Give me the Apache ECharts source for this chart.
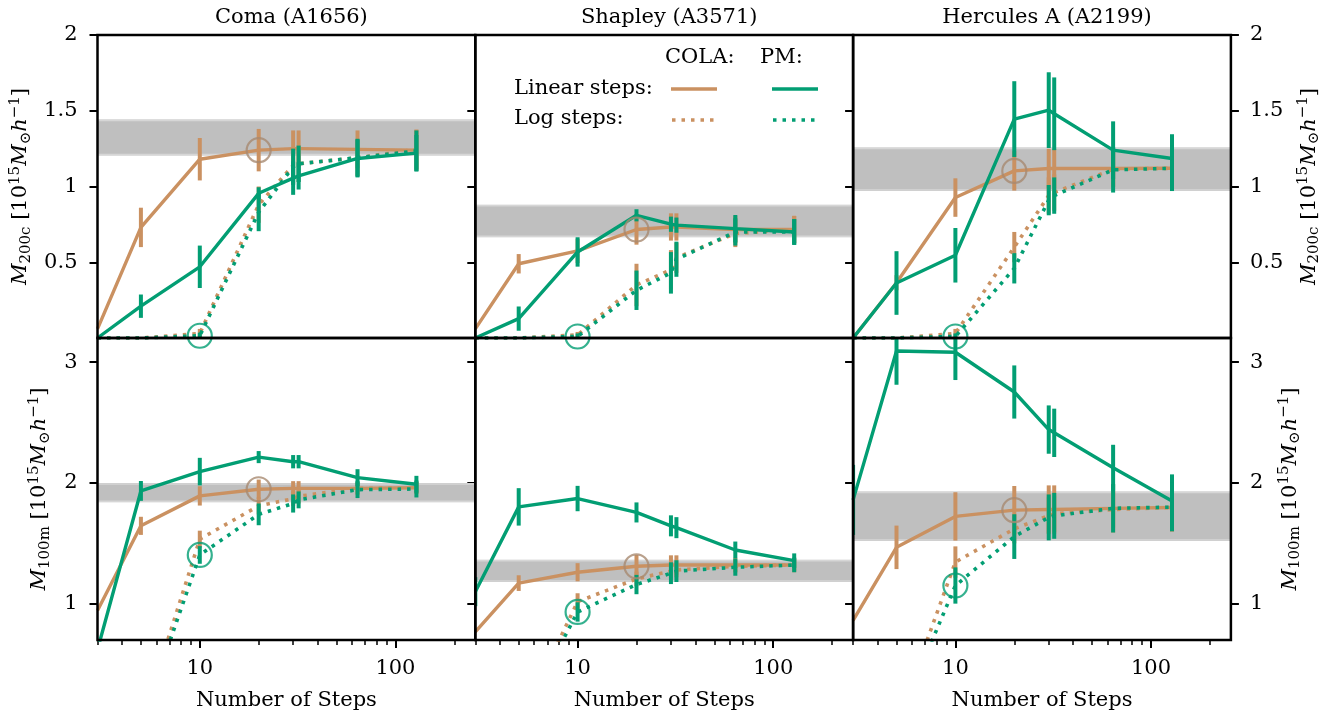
<!DOCTYPE html>
<html>
<head>
<meta charset="utf-8">
<script src="https://cdn.jsdelivr.net/npm/echarts@6/dist/echarts.min.js"></script>
<style>html,body{margin:0;padding:0;background:#fff}#chart{width:1343px;height:718px}</style>
</head>
<body>
<div id="chart"></div>
<script>
// ---------------- data ----------------
const steps = [3, 5, 10, 20, 30, 32, 64, 128];
const clusterNames = ['Coma (A1656)', 'Shapley (A3571)', 'Hercules A (A2199)'];
const xTicksMajor = [10, 100];
const xTicksMinor = [3, 4, 5, 6, 7, 8, 9, 20, 30, 40, 50, 60, 70, 80, 90, 200];
const yTicksM200c = [0.5, 1, 1.5, 2];
const yTicksM100m = [1, 2, 3];
const xLabel = 'Number of Steps';
const legendHeads = ['COLA:', 'PM:'];
const legendRows = ['Linear steps:', 'Log steps:'];

// Coma, M200c
const coma200_colaLin    = [0.06, 0.73, 1.18, 1.24, 1.25, 1.25, 1.245, 1.24];
const coma200_colaLinErr = [0, 0.13, 0.14, 0.14, 0.12, 0.12, 0.125, 0.135];
const coma200_colaLog    = [0, 0, 0.03, 0.88, 1.14, 1.15, 1.19, 1.245];
const coma200_colaLogErr = [0, 0, 0.03, 0.12, 0.12, 0.12, 0.12, 0.13];
const coma200_pmLin      = [0, 0.21, 0.47, 0.955, 1.055, 1.07, 1.185, 1.22];
const coma200_pmLinErr   = [0, 0.077, 0.14, 0.04, 0.11, 0.09, 0.125, 0.12];
const coma200_pmLog      = [0, 0, 0.015, 0.83, 1.13, 1.15, 1.19, 1.235];
const coma200_pmLogErr   = [0, 0, 0.02, 0.125, 0.12, 0.12, 0.125, 0.135];
const coma200_band       = [1.205, 1.442];

// Shapley, M200c
const shap200_colaLin    = [0.06, 0.49, 0.575, 0.716, 0.733, 0.733, 0.716, 0.716];
const shap200_colaLinErr = [0, 0.064, 0.08, 0.1, 0.09, 0.09, 0.09, 0.09];
const shap200_colaLog    = [0, 0, 0.02, 0.35, 0.45, 0.53, 0.69, 0.716];
const shap200_colaLogErr = [0, 0, 0.02, 0.14, 0.13, 0.1, 0.09, 0.09];
const shap200_pmLin      = [0, 0.128, 0.568, 0.81, 0.751, 0.745, 0.722, 0.70];
const shap200_pmLinErr   = [0, 0.08, 0.097, 0.04, 0.05, 0.05, 0.09, 0.085];
const shap200_pmLog      = [0, 0, 0.01, 0.315, 0.43, 0.52, 0.70, 0.70];
const shap200_pmLogErr   = [0, 0, 0.02, 0.13, 0.137, 0.116, 0.09, 0.085];
const shap200_band       = [0.665, 0.88];

// Hercules A, M200c
const herc200_colaLin    = [0, 0.365, 0.927, 1.103, 1.119, 1.119, 1.119, 1.12];
const herc200_colaLinErr = [0, 0.05, 0.127, 0.13, 0.13, 0.13, 0.12, 0.12];
const herc200_colaLog    = [0, 0, 0.03, 0.6, 0.94, 0.96, 1.115, 1.12];
const herc200_colaLogErr = [0, 0, 0.03, 0.1, 0.12, 0.12, 0.12, 0.12];
const herc200_pmLin      = [0, 0.363, 0.546, 1.445, 1.504, 1.48, 1.24, 1.185];
const herc200_pmLinErr   = [0, 0.21, 0.18, 0.25, 0.25, 0.24, 0.19, 0.16];
const herc200_pmLog      = [0, 0, 0.01, 0.46, 0.91, 0.94, 1.11, 1.12];
const herc200_pmLogErr   = [0, 0, 0.02, 0.1, 0.1, 0.12, 0.15, 0.15];
const herc200_band       = [0.97, 1.258];

// Coma, M100m
const coma100_colaLin    = [0.945, 1.645, 1.893, 1.948, 1.955, 1.955, 1.955, 1.96];
const coma100_colaLinErr = [0, 0.075, 0.08, 0.08, 0.06, 0.06, 0.05, 0.05];
const coma100_colaLog    = [0, 0, 1.535, 1.81, 1.87, 1.89, 1.955, 1.96];
const coma100_colaLogErr = [0, 0, 0.07, 0.07, 0.06, 0.06, 0.05, 0.05];
const coma100_pmLin      = [0.62, 1.934, 2.094, 2.214, 2.176, 2.176, 2.044, 1.989];
const coma100_pmLinErr   = [0, 0.082, 0.114, 0.05, 0.055, 0.055, 0.07, 0.07];
const coma100_pmLog      = [0, 0, 1.404, 1.74, 1.83, 1.86, 1.945, 1.95];
const coma100_pmLogErr   = [0, 0, 0.073, 0.09, 0.075, 0.07, 0.07, 0.07];
const coma100_band       = [1.84, 2.0];

// Shapley, M100m
const shap100_colaLin    = [0.767, 1.171, 1.261, 1.31, 1.321, 1.321, 1.321, 1.321];
const shap100_colaLinErr = [0, 0.065, 0.075, 0.095, 0.08, 0.08, 0.06, 0.06];
const shap100_colaLog    = [0, 0, 1.017, 1.206, 1.27, 1.28, 1.31, 1.321];
const shap100_colaLogErr = [0, 0, 0.07, 0.06, 0.06, 0.06, 0.05, 0.05];
const shap100_pmLin      = [1.1, 1.802, 1.871, 1.756, 1.645, 1.63, 1.445, 1.357];
const shap100_pmLinErr   = [0.12, 0.155, 0.105, 0.083, 0.087, 0.087, 0.07, 0.06];
const shap100_pmLog      = [0, 0, 0.932, 1.159, 1.253, 1.27, 1.302, 1.321];
const shap100_pmLogErr   = [0, 0, 0.08, 0.08, 0.09, 0.09, 0.07, 0.06];
const shap100_band       = [1.18, 1.365];

// Hercules A, M100m
const herc100_colaLin    = [0.862, 1.467, 1.723, 1.775, 1.78, 1.78, 1.79, 1.797];
const herc100_colaLinErr = [0, 0.18, 0.2, 0.2, 0.2, 0.2, 0.2, 0.2];
const herc100_colaLog    = [0, 0, 1.345, 1.62, 1.73, 1.745, 1.78, 1.797];
const herc100_colaLogErr = [0, 0, 0.13, 0.12, 0.15, 0.15, 0.15, 0.15];
const herc100_pmLin      = [1.86, 3.093, 3.082, 2.753, 2.442, 2.415, 2.126, 1.851];
const herc100_pmLinErr   = [0.29, 0.28, 0.23, 0.22, 0.2, 0.2, 0.19, 0.22];
const herc100_pmLog      = [0, 0, 1.151, 1.556, 1.715, 1.728, 1.79, 1.8];
const herc100_pmLogErr   = [0, 0, 0.15, 0.185, 0.19, 0.19, 0.2, 0.2];
const herc100_band       = [1.52, 1.93];

// ---------------- styling / layout ----------------
const FONT = 'DejaVu Serif';
const FS = 21;
const FS_SMALL = 15;
const C_COLA = '#ca9161';
const C_PM = '#029e73';
const C_CIRC = '#a88a70';
const LW = 3.4;
const DOT = [3.5, 6];
const colLeft = [97.5, 475.3, 853.1];
const colW = 377.8;
const rowTop = [35, 338];
const rowH = [303, 302];

const panels = [
  {row:0,col:0,cl:coma200_colaLin,cle:coma200_colaLinErr,cg:coma200_colaLog,cge:coma200_colaLogErr,pl:coma200_pmLin,ple:coma200_pmLinErr,pg:coma200_pmLog,pge:coma200_pmLogErr,band:coma200_band},
  {row:0,col:1,cl:shap200_colaLin,cle:shap200_colaLinErr,cg:shap200_colaLog,cge:shap200_colaLogErr,pl:shap200_pmLin,ple:shap200_pmLinErr,pg:shap200_pmLog,pge:shap200_pmLogErr,band:shap200_band},
  {row:0,col:2,cl:herc200_colaLin,cle:herc200_colaLinErr,cg:herc200_colaLog,cge:herc200_colaLogErr,pl:herc200_pmLin,ple:herc200_pmLinErr,pg:herc200_pmLog,pge:herc200_pmLogErr,band:herc200_band},
  {row:1,col:0,cl:coma100_colaLin,cle:coma100_colaLinErr,cg:coma100_colaLog,cge:coma100_colaLogErr,pl:coma100_pmLin,ple:coma100_pmLinErr,pg:coma100_pmLog,pge:coma100_pmLogErr,band:coma100_band},
  {row:1,col:1,cl:shap100_colaLin,cle:shap100_colaLinErr,cg:shap100_colaLog,cge:shap100_colaLogErr,pl:shap100_pmLin,ple:shap100_pmLinErr,pg:shap100_pmLog,pge:shap100_pmLogErr,band:shap100_band},
  {row:1,col:2,cl:herc100_colaLin,cle:herc100_colaLinErr,cg:herc100_colaLog,cge:herc100_colaLogErr,pl:herc100_pmLin,ple:herc100_pmLinErr,pg:herc100_pmLog,pge:herc100_pmLogErr,band:herc100_band}
];

const yRange = [[0, 2], [0.7, 3.2]];
const yTicks = [yTicksM200c, yTicksM100m];
const yNames = [
  '{it|M}{sub|200c} [10{sup|15}{it|M}{sub|⊙}{it|h}{sup|−1}]',
  '{it|M}{sub|100m} [10{sup|15}{it|M}{sub|⊙}{it|h}{sup|−1}]'
];
const nameStyle = {
  fontFamily: FONT, fontSize: FS, color: '#000',
  rich: {
    it: {fontFamily: FONT, fontSize: FS, fontStyle: 'italic', color: '#000'},
    sub: {fontFamily: FONT, fontSize: FS_SMALL, color: '#000', padding: [10, 0, 0, 0]},
    sup: {fontFamily: FONT, fontSize: FS_SMALL, color: '#000', padding: [0, 0, 12, 0]}
  }
};
const tickLine = {color: '#000', width: 2};
const labelStyle = {color: '#000', fontFamily: FONT, fontSize: FS};

const grids = [], xAxes = [], yAxes = [], series = [];

panels.forEach((p, i) => {
  grids.push({left: colLeft[p.col], top: rowTop[p.row], width: colW, height: rowH[p.row],
    show: true, borderColor: '#000', borderWidth: 2.5, backgroundColor: 'rgba(0,0,0,0)',
    z: 10, containLabel: false, outerBoundsMode: 'none'});
  const bottom = p.row === 1;
  xAxes.push({gridIndex: i, type: 'log', logBase: 10, min: 3, max: 256, position: 'bottom',
    show: bottom,
    axisLine: {show: false}, splitLine: {show: false},
    axisTick: {show: bottom, customValues: xTicksMajor, length: 8, lineStyle: tickLine},
    axisLabel: {show: bottom, customValues: xTicksMajor, margin: 18, ...labelStyle},
    name: bottom ? xLabel : '', nameLocation: 'middle', nameGap: 50,
    nameTextStyle: {fontFamily: FONT, fontSize: FS, color: '#000'}});
  yAxes.push({gridIndex: i, type: 'value', min: yRange[p.row][0], max: yRange[p.row][1], position: 'left',
    axisLine: {show: false}, splitLine: {show: false},
    axisTick: {show: true, customValues: yTicks[p.row], length: 8, lineStyle: tickLine},
    axisLabel: {show: p.col === 0, customValues: yTicks[p.row], margin: 20, ...labelStyle},
    name: p.col === 0 ? yNames[p.row] : '', nameLocation: 'middle', nameRotate: 90,
    nameGap: p.row === 0 ? 63 : 44, nameTextStyle: nameStyle});
});
// minor x ticks for the bottom row
panels.forEach((p, i) => {
  if (p.row !== 1) return;
  xAxes.push({gridIndex: i, type: 'log', logBase: 10, min: 3, max: 256, position: 'bottom',
    axisLine: {show: false}, splitLine: {show: false},
    axisTick: {show: true, customValues: xTicksMinor, length: 5, lineStyle: {color: '#000', width: 1.5}},
    axisLabel: {show: false}});
});
// right-hand y axes of the last column
panels.forEach((p, i) => {
  if (p.col !== 2) return;
  yAxes.push({gridIndex: i, type: 'value', min: yRange[p.row][0], max: yRange[p.row][1], position: 'right',
    axisLine: {show: false}, splitLine: {show: false},
    axisTick: {show: true, customValues: yTicks[p.row], length: 8, lineStyle: tickLine},
    axisLabel: {show: true, customValues: yTicks[p.row], margin: 19, ...labelStyle},
    name: yNames[p.row], nameLocation: 'middle', nameRotate: 90,
    nameGap: p.row === 0 ? 65 : 46, nameTextStyle: nameStyle});
});

function bandRender(params, api) {
  const cs = params.coordSys;
  const yHi = api.coord([10, api.value(1)])[1];
  const yLo = api.coord([10, api.value(0)])[1];
  return {type: 'group', children: [
    {type: 'rect', shape: {x: cs.x, y: yHi, width: cs.width, height: yLo - yHi},
      style: {fill: '#bfbfbf'}},
    {type: 'line', shape: {x1: cs.x, y1: yHi + 1, x2: cs.x + cs.width, y2: yHi + 1}, style: {stroke: '#d6d6d6', lineWidth: 1.5}},
    {type: 'line', shape: {x1: cs.x, y1: yLo - 1, x2: cs.x + cs.width, y2: yLo - 1}, style: {stroke: '#d6d6d6', lineWidth: 1.5}}
  ]};
}
function errRender(color) {
  return function (params, api) {
    const e = api.value(2);
    if (!e) return null;
    const cs = params.coordSys;
    const pTop = api.coord([api.value(0), api.value(1) + e]);
    const pBot = api.coord([api.value(0), api.value(1) - e]);
    const y1 = Math.max(pTop[1], cs.y), y2 = Math.min(pBot[1], cs.y + cs.height);
    if (y2 <= y1) return null;
    const half = 2;
    const x1 = Math.max(pTop[0] - half, cs.x), x2 = Math.min(pTop[0] + half, cs.x + cs.width);
    if (x2 <= x1) return null;
    return {type: 'rect', shape: {x: x1, y: y1, width: x2 - x1, height: y2 - y1}, style: {fill: color}};
  };
}
function lineS(i, vals, color, dotted, z) {
  return {type: 'line', xAxisIndex: i, yAxisIndex: i, data: steps.map((s, k) => [s, vals[k]]),
    symbol: 'none', showSymbol: false, clip: true, silent: true, z: z,
    lineStyle: {color: color, width: dotted ? 3.6 : LW, type: dotted ? DOT : 'solid', cap: 'butt'},
    itemStyle: {color: color}};
}
function errS(i, vals, errs, color, z) {
  return {type: 'custom', xAxisIndex: i, yAxisIndex: i, silent: true, z: z, clip: true,
    data: steps.map((s, k) => [s, vals[k], errs[k]]), encode: {x: 0, y: 1},
    renderItem: errRender(color)};
}

panels.forEach((p, i) => {
  series.push({type: 'custom', xAxisIndex: i, yAxisIndex: i, silent: true, z: 1,
    data: [p.band], encode: {y: [0, 1]}, renderItem: bandRender});
  series.push(lineS(i, p.cl, C_COLA, false, 2));
  series.push(errS(i, p.cl, p.cle, C_COLA, 2));
  series.push(lineS(i, p.cg, C_COLA, true, 2));
  series.push(errS(i, p.cg, p.cge, C_COLA, 2));
  series.push(lineS(i, p.pl, C_PM, false, 3));
  series.push(errS(i, p.pl, p.ple, C_PM, 3));
  series.push(lineS(i, p.pg, C_PM, true, 3));
  series.push(errS(i, p.pg, p.pge, C_PM, 3));
  // fiducial markers: COLA linear at 20 steps, PM log at 10 steps
  series.push({type: 'scatter', xAxisIndex: i, yAxisIndex: i, silent: true, z: 4, symbol: 'circle', symbolSize: 24,
    data: [[steps[3], p.cl[3]]], itemStyle: {color: 'rgba(0,0,0,0)', borderColor: C_CIRC, borderWidth: 2.2}});
  series.push({type: 'scatter', xAxisIndex: i, yAxisIndex: i, silent: true, z: 4, symbol: 'circle', symbolSize: 24,
    data: [[steps[2], p.pg[2]]], itemStyle: {color: 'rgba(0,0,0,0)', borderColor: C_PM, borderWidth: 2.2}});
});

const titles = clusterNames.map((t, c) => ({text: t, left: colLeft[c] + colW / 2, top: 2, textAlign: 'center',
  textStyle: {fontFamily: FONT, fontSize: FS, fontWeight: 'normal', color: '#000'}}));

const txt = (t, x, y) => ({type: 'text', x: x, y: y, z: 50, silent: true,
  style: {text: t, font: FS + 'px "' + FONT + '"', fill: '#000', align: 'left', verticalAlign: 'middle', textAlign: 'left', textVerticalAlign: 'middle'}});
const seg = (x1, x2, y, color, dotted) => ({type: 'line', z: 50, silent: true,
  shape: {x1: x1, y1: y, x2: x2, y2: y},
  style: {stroke: color, lineWidth: dotted ? 3.6 : LW, lineDash: dotted ? DOT : null, lineCap: 'butt'}});
const graphics = [
  txt(legendHeads[0], 665, 58), txt(legendHeads[1], 760, 58),
  txt(legendRows[0], 514, 89), txt(legendRows[1], 514, 119),
  seg(671, 717, 89, C_COLA, false), seg(772, 818, 89, C_PM, false),
  seg(672, 717, 120, C_COLA, true), seg(773, 817, 120, C_PM, true)
];

const chart = echarts.init(document.getElementById('chart'), null, {renderer: 'canvas'});
chart.setOption({
  animation: false,
  backgroundColor: '#fff',
  title: titles,
  grid: grids,
  xAxis: xAxes,
  yAxis: yAxes,
  series: series,
  graphic: graphics
});
</script>
</body>
</html>
